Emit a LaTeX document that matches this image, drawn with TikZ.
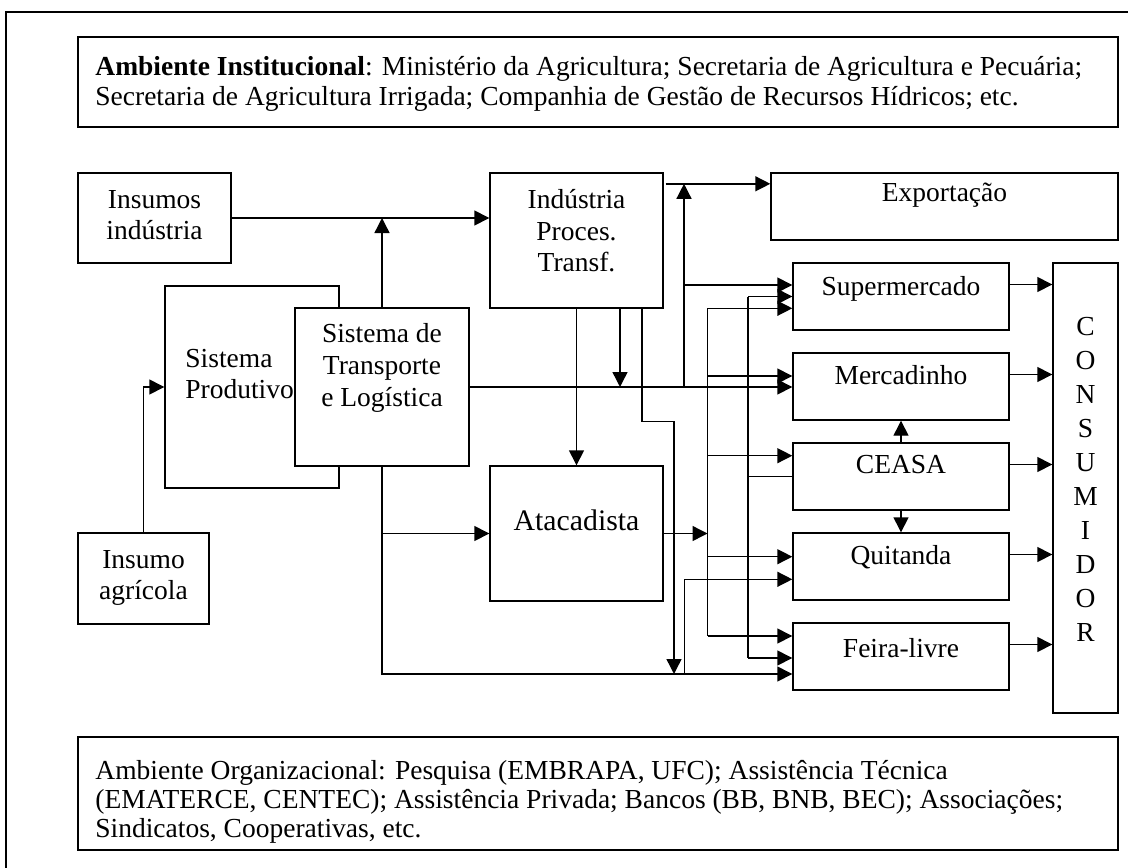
\documentclass[tikz,border=0pt]{standalone}
\usepackage{fontspec}
\setmainfont{Liberation Serif}
\usetikzlibrary{arrows.meta,calc}
\begin{document}
\begin{tikzpicture}[x=0.5pt,y=-0.5pt,
  bx/.style 2 args={draw, line width=0.7pt, inner sep=0pt, rectangle, fill=white,
     minimum width=#1*0.5pt, minimum height=#2*0.5pt},
  txt/.style={inner sep=0pt, align=center, font=\fontsize{13.75}{15.8}\selectfont},
  t1/.style={txt, text height=0.69em, text depth=0.22em},
  ln/.style={line width=0.7pt},
  arr/.style={line width=0.7pt, -{Triangle[length=7.5pt,width=7.5pt]}},
]
\useasboundingbox (0,0) rectangle (1128,867);
% outer frame
\draw[line width=1.1pt] (6,900) -- (6,12) -- (1160,12);

% boxes
\node[bx={1040}{90}] (topbox) at (598,82) {};
\node[bx={153}{90}] (ins) at (154.5,218) {};
\node[bx={173}{135}] (ind) at (576.5,240.5) {};
\node[bx={347}{67}] (exp) at (944.5,206.5) {};
\node[bx={174}{202}] (prod) at (252,387) {};
\node[bx={174}{158}] (tra) at (382,387) {};
\node[bx={173}{135}] (ata) at (576.5,533.5) {};
\node[bx={131}{91}] (agr) at (143.5,578.5) {};
\node[bx={216}{67}] (sup) at (901,296.5) {};
\node[bx={216}{67}] (mer) at (901,386.5) {};
\node[bx={216}{67}] (cea) at (901,476.5) {};
\node[bx={216}{67}] (qui) at (901,566.5) {};
\node[bx={216}{67}] (fei) at (901,656.5) {};
\node[bx={65}{450}] (con) at (1085.5,488) {};
\node[bx={1040}{113}] (botbox) at (598,793.5) {};

% texts
\node[txt, align=left, anchor=west, font=\fontsize{13.75}{15.3}\selectfont] (ttop) at (95,84)
  {\textbf{Ambiente Institucional}: Ministério da Agricultura; Secretaria de Agricultura e Pecuária;\\
   Secretaria de Agricultura Irrigada; Companhia de Gestão de Recursos Hídricos; etc.};
\node[txt] (tins) at (154.5,215) {Insumos\\indústria};
\node[txt] (tind) at (576.5,231) {Indústria\\Proces.\\Transf.};
\node[t1] (texp) at (944.5,197) {Exportação};
\node[txt, align=left, anchor=west] (tprod) at (185,374) {Sistema\\Produtivo};
\node[txt] (ttra) at (382,368) {Sistema de\\Transporte\\e Logística};
\node[t1, font=\fontsize{14.9}{17}\selectfont] (tata) at (576.5,526) {Atacadista};
\node[txt] (tagr) at (143.5,578) {Insumo\\agrícola};
\node[t1] (tsup) at (901,291) {Supermercado};
\node[t1] (tmer) at (901,380) {Mercadinho};
\node[t1] (tcea) at (901,469) {CEASA};
\node[t1] (tqui) at (901,560) {Quitanda};
\node[t1] (tfei) at (901,653) {Feira-livre};
\node[txt, font=\fontsize{13.75}{17}\selectfont] (tcon) at (1085.5,479)
  {C\\O\\N\\S\\U\\M\\I\\D\\O\\R};
\node[txt, align=left, anchor=west, font=\fontsize{13.75}{14.6}\selectfont] (tbot) at (95,802)
  {Ambiente Organizacional: Pesquisa (EMBRAPA, UFC); Assistência Técnica\\
   (EMATERCE, CENTEC); Assistência Privada; Bancos (BB, BNB, BEC); Associações;\\
   Sindicatos, Cooperativas, etc.};

% coordinates
\coordinate (ie) at ($(ind.north east)+(2,11.5)$);
\coordinate (v1) at (684,387);
\coordinate (v1s) at (684,285);
\coordinate (d1a) at (620,308);
\coordinate (d1b) at (620,387);
\coordinate (j1) at (642,308);
\coordinate (j2) at (674,421.5);
\path (fei.west) ++(0,17.5) coordinate (f3);
\coordinate (v2a) at (707.5,533.5);
\coordinate (v2t) at (707.5,308.3);
\coordinate (v2b) at (707.5,636);
\path (mer.west) ++(0,-10.5) coordinate (m1);
\path (cea.west) ++(0,-20.8) coordinate (c1);
\path (qui.west) ++(0,-9.8) coordinate (q1);
\path (qui.west) ++(0,12.8) coordinate (q2);
\coordinate (v3t) at (748,296.5);
\coordinate (v3b) at (748,658);
\coordinate (v4) at (684.5,674);

% connectors
\draw[arr] (ins.east) -- (ins.east -| ind.west);
\draw[arr] (tra.north) -- (tra.north |- ins.east);
\draw[arr] (agr.north) |- (prod.west);
\draw[arr] (ie) -- (ie -| exp.west);
\draw[arr] (tra.east) -- (tra.east -| mer.west);
\draw[arr] (v1) -- (v1 |- ie);
\draw[arr] (v1s) -- (v1s -| sup.west);
\draw[arr] (ind.south) -- (ata.north);
\draw[arr] (d1a) -- (d1b);
\draw[arr] (j1) |- (j2) -- (j2 |- f3);
\draw[arr] (tra.south) |- (f3);
\draw[arr] (tra.south |- ata.west) -- (ata.west);
\draw[arr] (ata.east) -- (v2a);
\draw[ln] (v2t) -- (v2b);
\draw[arr] (v2t) -- (v2t -| sup.west);
\draw[arr] (v2t |- m1) -- (m1);
\draw[arr] (v2t |- c1) -- (c1);
\draw[arr] (v2t |- q1) -- (q1);
\draw[arr] (v2b) -- (v2b -| fei.west);
\draw[ln] (cea.west) -- (cea.west -| v3t);
\draw[ln] (v3t) -- (v3b);
\draw[arr] (v3t) -- (v3t -| sup.west);
\draw[arr] (v3b) -- (v3b -| fei.west);
\draw[arr] (v4) |- (q2);
\draw[arr] (cea.north) -- (mer.south);
\draw[arr] (cea.south) -- (qui.north);
\foreach \n in {sup,mer,cea,qui,fei}{
  \path (\n.east) ++(0,-12) coordinate (o\n);
  \draw[arr] (o\n) -- (o\n -| con.west);
}
\end{tikzpicture}
\end{document}
